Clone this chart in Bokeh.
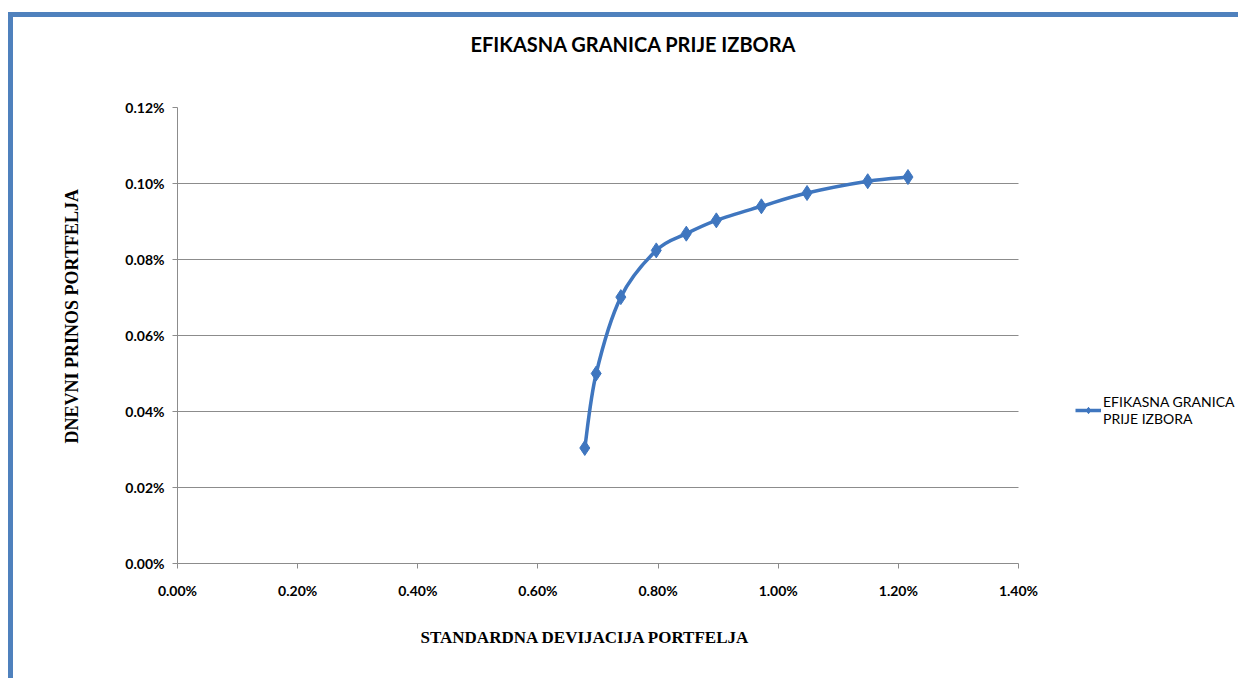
from bokeh.plotting import figure
from bokeh.models import (Range1d, FixedTicker, PrintfTickFormatter, Legend, LegendItem,
                          ColumnDataSource, Title)
from bokeh.embed import file_html
from bokeh.resources import INLINE

# ---- data (standard deviation %, daily return %) ----
std_dev = [0.678, 0.697, 0.738, 0.797, 0.847, 0.897, 0.972, 1.048, 1.149, 1.216]
returns = [0.0304, 0.0500, 0.0701, 0.0824, 0.0868, 0.0903, 0.0940, 0.0975, 0.1006, 0.1017]
x_ticks = [0.0, 0.2, 0.4, 0.6, 0.8, 1.0, 1.2, 1.4]
y_ticks = [0.0, 0.02, 0.04, 0.06, 0.08, 0.10, 0.12]
series_name = "EFIKASNA GRANICA\nPRIJE IZBORA"
title_text = "EFIKASNA GRANICA PRIJE IZBORA"
x_title = "STANDARDNA DEVIJACIJA PORTFELJA"
y_title = "DNEVNI PRINOS PORTFELJA"

BLUE = "#3f76bf"
GRID = "#8c8c8c"

# layout (pixels)
W, H = 1230, 666
B_LEFT, B_RIGHT, B_TOP, B_BOTTOM = 164, 5, 90, 120
AXIS_PX = 841                       # pixel width of the 0..1.4 axis
X_MAX = 1.4
frame_w = W - B_LEFT - B_RIGHT
x_view_end = X_MAX * frame_w / AXIS_PX   # frame extends right to hold the legend

p = figure(width=W, height=H, output_backend="svg", toolbar_location=None,
           x_range=Range1d(0, x_view_end), y_range=Range1d(0, 0.12),
           min_border_left=B_LEFT, min_border_right=B_RIGHT,
           min_border_top=B_TOP, min_border_bottom=B_BOTTOM)
p.styles = {"margin-top": "12px", "margin-left": "8px",
            "border-top": "5px solid #4f81bd", "border-left": "5px solid #4f81bd"}
p.outline_line_color = None
p.background_fill_color = "white"
p.border_fill_color = "white"

# chart title (spacer keeps it up near the top border)
p.add_layout(Title(text=" ", text_font_size="10px", standoff=39), "above")
p.add_layout(Title(text=title_text, align="left", offset=293, standoff=0,
                   text_font="Lato", text_font_style="bold", text_font_size="20px",
                   text_color="#000000"), "above")

# axes
for ax in (p.xaxis[0], p.yaxis[0]):
    ax.axis_line_color = GRID
    ax.major_tick_line_color = GRID
    ax.minor_tick_line_color = None
    ax.major_tick_in = 0
    ax.major_tick_out = 5
    ax.major_label_text_font = "Lato"
    ax.major_label_text_font_style = "bold"
    ax.major_label_text_font_size = "14px"
    ax.major_label_text_color = "#000000"

p.xaxis.ticker = FixedTicker(ticks=x_ticks)
p.yaxis.ticker = FixedTicker(ticks=y_ticks)
p.xaxis.bounds = (0, X_MAX)
p.xaxis.formatter = PrintfTickFormatter(format="%.2f%%")
p.yaxis.formatter = PrintfTickFormatter(format="%.2f%%")
p.xaxis.major_label_standoff = 13
p.yaxis.major_label_standoff = 8

# axis titles (as side titles so they can be positioned like the original)
p.add_layout(Title(text=x_title, align="left", offset=243, standoff=48,
                   text_font="Liberation Serif", text_font_style="bold",
                   text_font_size="17px", text_color="#000000"), "below")
p.add_layout(Title(text=y_title, align="left", offset=120, standoff=82,
                   text_font="Liberation Serif", text_font_style="bold",
                   text_font_size="18px", text_color="#000000"), "left")

p.xgrid.grid_line_color = None
p.ygrid.grid_line_color = GRID
p.ygrid.grid_line_width = 1
p.ygrid.cross_bounds = (0, X_MAX)

# smoothed line: cubic bezier segments between consecutive data points
n = len(std_dev)
x0, y0, x1, y1, cx0, cy0, cx1, cy1 = [], [], [], [], [], [], [], []
t = 1.0 / 6.0
for i in range(n - 1):
    im1 = max(i - 1, 0)
    ip2 = min(i + 2, n - 1)
    x0.append(std_dev[i]); y0.append(returns[i])
    x1.append(std_dev[i + 1]); y1.append(returns[i + 1])
    cx0.append(std_dev[i] + (std_dev[i + 1] - std_dev[im1]) * t)
    cy0.append(returns[i] + (returns[i + 1] - returns[im1]) * t)
    cx1.append(std_dev[i + 1] - (std_dev[ip2] - std_dev[i]) * t)
    cy1.append(returns[i + 1] - (returns[ip2] - returns[i]) * t)

bez_src = ColumnDataSource(dict(x0=x0, y0=y0, x1=x1, y1=y1, cx0=cx0, cy0=cy0, cx1=cx1, cy1=cy1))
r_line = p.bezier(x0="x0", y0="y0", x1="x1", y1="y1", cx0="cx0", cy0="cy0", cx1="cx1", cy1="cy1",
                  source=bez_src, line_color=BLUE, line_width=3.5)
r_pts = p.scatter(std_dev, returns, marker="diamond", size=15, fill_color=BLUE,
                  line_color=BLUE, line_width=1)

legend = Legend(items=[LegendItem(label=series_name, renderers=[r_line, r_pts])],
                location=(898, 136), padding=0, margin=0, spacing=0,
                border_line_alpha=0, background_fill_alpha=0,
                glyph_width=26, glyph_height=16, label_standoff=2,
                label_text_font="Lato", label_text_font_size="14px",
                label_text_color="#000000", label_text_line_height=2.0)
p.add_layout(legend, "center")

open("out.html", "w").write(file_html(p, INLINE))
